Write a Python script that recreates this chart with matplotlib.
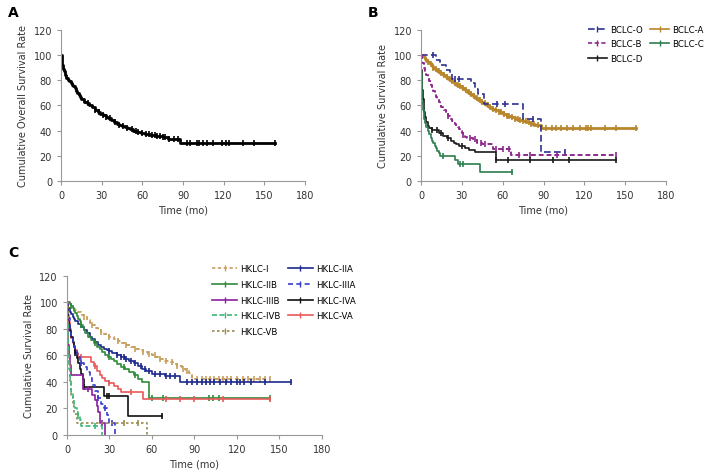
import matplotlib.pyplot as plt
from matplotlib.lines import Line2D
import numpy as np

plt.rcParams['font.family'] = 'DejaVu Sans'

# ---------- panel A : overall survival ----------
a_t = [0, 0.5, 1, 1.5, 2, 3, 4, 5, 6, 7, 8, 9, 10, 11, 12, 13, 14, 15, 17, 19, 21, 23, 25, 27, 29,
       31, 33, 35, 37, 39, 41, 43, 45, 47, 49, 51, 53, 56, 59, 62, 66, 70, 75, 79, 88]
a_s = [100, 95, 92, 89, 87, 84, 82, 80, 79, 77.5, 76.5, 75, 73.5, 71.5, 70, 68, 66.5, 65, 63, 61.5,
       60, 58.5, 56.5, 55, 53.5, 52, 51, 50, 48.5, 47, 45.5, 44.5, 43.5, 42.5, 42, 41, 40, 39, 38,
       37, 36.5, 36, 35, 33.5, 30.2]
a_end = 158
a_cens = [20, 25, 28, 31, 33, 36, 40, 43, 46, 49, 52, 55, 57, 60, 63, 65, 67, 69, 71, 73, 75, 77,
          80, 83, 86, 93, 95, 100, 102, 105, 108, 112, 119, 122, 124, 134, 142, 158]

# ---------- panel B : BCLC stages ----------
bclc_o_t = [0, 11, 14, 18, 21, 23, 37, 40, 42, 46, 75, 88]
bclc_o_s = [100, 96, 92, 88, 85, 81, 78, 73, 69, 61, 49, 23]
bclc_o_end = 106
bclc_o_cens = [9, 25, 28, 56, 62, 82, 106]

bclc_a_t = [0, 1, 2, 3, 4, 5, 6, 7, 8, 9, 10, 12, 14, 16, 18, 20, 22, 24, 26, 28, 30, 32, 34, 36,
            38, 40, 42, 44, 46, 48, 50, 52, 54, 57, 60, 63, 66, 69, 72, 75, 78, 81, 84, 88]
bclc_a_s = [100, 99, 98, 96.5, 95.5, 94.5, 93.5, 92.5, 91, 90, 89, 87, 85.5, 84, 82.5, 81, 79.5,
            78, 76.5, 75, 73.5, 72, 70.5, 69, 67.5, 66, 64.5, 63, 61.5, 60, 58.5, 57.5, 56.5, 54.5,
            53, 51.5, 50.5, 49.5, 48.5, 47.5, 46.5, 45.5, 44.5, 42]
bclc_a_end = 158
bclc_a_cens = [5, 7, 9, 11, 13, 15, 17, 19, 21, 23, 25, 27, 29, 31, 33, 35, 37, 39, 41, 43, 45, 47,
               49, 51, 53, 55, 57, 59, 61, 63, 65, 67, 69, 71, 73, 75, 77, 79, 81, 83, 86, 92, 96,
               99, 103, 107, 112, 117, 121, 123, 125, 135, 143, 158]

bclc_b_t = [0, 0.5, 1, 2, 3, 4, 5, 6, 7, 8, 9, 10, 11, 12, 13, 14, 15, 16, 17, 18, 19, 20, 21, 22,
            23, 24, 25, 26, 27, 28, 29, 30, 31, 32, 34, 38, 41, 45, 53, 66]
bclc_b_s = [100, 97, 94, 90, 87, 84, 82, 79, 76.5, 74, 71.5, 69, 67, 65, 62.5, 61, 59, 57.5, 56,
            54.5, 53, 51.5, 50, 49, 47.5, 46, 45, 44, 42.5, 41, 39.5, 38, 36.5, 35, 34, 33, 30.5,
            29.5, 25.5, 20.5]
bclc_b_end = 143
bclc_b_cens = [20, 31, 36, 40, 44, 47, 55, 60, 65, 72, 80, 100, 143]

bclc_c_t = [0, 0.3, 0.6, 1, 1.5, 2, 2.5, 3, 4, 5, 6, 7, 8, 9, 10, 11, 12, 13, 14, 25, 27, 43]
bclc_c_s = [100, 85, 72, 62, 56, 52, 49, 46, 43, 40, 37, 34, 32, 30, 28, 26, 24, 22, 20, 16.5, 13.5, 7]
bclc_c_end = 67
bclc_c_cens = [16, 29, 31, 67]

bclc_d_t = [0, 0.3, 0.6, 1, 1.5, 2, 2.5, 3, 4, 5, 6, 8, 13, 16, 19, 22, 24, 26, 28, 32, 35, 40, 55]
bclc_d_s = [100, 88, 80, 72, 65, 60, 55, 51, 47, 44, 42, 40.5, 38, 36, 34, 32, 30.5, 29, 28, 26.5,
            25, 23, 17]
bclc_d_end = 143
bclc_d_cens = [8, 12, 15, 20, 30, 55, 64, 80, 97, 109, 143]

# ---------- panel C : HKLC stages ----------
hk_i_t = [0, 1, 2, 3, 4, 5, 6, 8, 10, 12, 14, 16, 18, 20, 22, 24, 26, 28, 30, 33, 36, 39, 42, 45,
          48, 51, 54, 57, 60, 63, 66, 69, 72, 75, 78, 81, 84, 86, 88]
hk_i_s = [100, 99, 98, 97, 96, 95, 94, 92.5, 90.5, 88.5, 86.5, 84.5, 82.5, 80.5, 79, 77.5, 76, 75,
          73.5, 72, 70.5, 69, 67.5, 66, 65, 64, 62.5, 61, 60, 59, 57.5, 56, 55, 53.5, 52, 50, 48,
          46.5, 42]
hk_i_end = 143
hk_i_cens = [12, 18, 24, 30, 36, 42, 48, 54, 58, 62, 66, 70, 74, 78, 82, 85, 92, 95, 98, 101, 104,
             107, 110, 113, 116, 120, 124, 128, 132, 136, 140, 143]

hk_iia_t = [0, 0.5, 1, 2, 3, 4, 5, 6, 8, 10, 12, 14, 16, 18, 20, 22, 24, 26, 28, 30, 32, 35, 38,
            41, 44, 47, 50, 53, 56, 60, 69, 80]
hk_iia_s = [100, 98, 96, 93, 91, 89, 87.5, 86, 83.5, 81, 79, 76.5, 74, 72, 70, 68, 66.5, 65, 64,
            63, 62, 60.5, 59, 57.5, 56, 54, 52, 50, 48, 46, 44.2, 39.7]
hk_iia_end = 158
hk_iia_cens = [30, 35, 38, 40, 42, 45, 48, 52, 55, 58, 62, 66, 70, 73, 76, 85, 88, 92, 95, 98, 101,
               104, 108, 112, 116, 120, 122, 125, 130, 140, 158]

hk_iib_t = [0, 2, 3, 4, 5, 6, 7, 8, 9, 10, 11, 12, 13, 15, 17, 19, 21, 23, 25, 27, 29, 31, 33, 35,
            38, 41, 44, 47, 50, 53, 58]
hk_iib_s = [100, 99, 97.5, 95.5, 93.5, 91.5, 89.5, 87.5, 85.5, 83, 81, 79, 77, 74, 71.5, 69, 66.5,
            64.5, 62.5, 60, 58.5, 57, 55.5, 53.5, 51.5, 49.5, 47.5, 45, 42, 40, 27.5]
hk_iib_end = 143
hk_iib_cens = [3, 10, 20, 30, 40, 48, 60, 68, 100, 103, 107, 143]

hk_iiia_t = [0, 0.5, 1, 2, 3, 4, 5, 6, 7, 8, 9, 10, 12, 14, 16, 18, 20, 22, 24, 26, 28, 30, 34]
hk_iiia_s = [100, 95, 88, 80, 74, 70, 67, 64, 61, 58.5, 56, 54, 51, 47.5, 43, 38, 33, 28, 23, 20,
             15, 9, 0]
hk_iiia_end = 34
hk_iiia_cens = [10, 22, 27, 32]

hk_iiib_t = [0, 0.3, 0.6, 1, 1.5, 2, 3, 11.5, 18, 20, 21, 22, 23.5, 27]
hk_iiib_s = [100, 88, 78, 68, 60, 53, 45, 35, 30, 26, 22, 17, 9, 0]
hk_iiib_end = 27
hk_iiib_cens = [15, 25]

hk_iva_t = [0, 0.5, 1, 1.5, 2, 3, 4, 5, 6, 7, 8, 9, 10, 11, 12, 26, 43]
hk_iva_s = [100, 92, 86, 82, 78, 74, 70, 66, 62, 58, 54, 50, 46, 42, 36, 29, 14]
hk_iva_end = 67
hk_iva_cens = [6, 12, 28, 30, 67]

hk_ivb_t = [0, 0.3, 0.6, 1, 1.5, 2, 2.5, 3, 4, 5, 6, 7, 8, 9, 10, 25]
hk_ivb_s = [100, 85, 72, 60, 50, 43, 37, 32, 27, 23, 20, 17, 14, 11, 7, 0]
hk_ivb_end = 25
hk_ivb_cens = [8, 20]

hk_va_t = [0, 0.5, 1, 1.5, 2, 2.5, 3, 4, 5, 6, 7, 8, 17, 19, 21, 23, 25, 27, 30, 33, 36, 38, 54]
hk_va_s = [100, 95, 90, 85, 80, 76, 73, 69, 66, 64, 62, 58.5, 55, 52, 48.5, 45, 43, 41, 39, 37, 35,
           32, 27]
hk_va_end = 143
hk_va_cens = [10, 20, 30, 45, 70, 80, 90, 110, 143]

hk_vb_t = [0, 0.5, 1, 2, 3, 4, 5, 7, 56.5]
hk_vb_s = [100, 75, 55, 40, 30, 22, 16, 9, 0]
hk_vb_end = 56.5
hk_vb_cens = [40, 50]


def km(ax, t, s, end, cens, color, ls='-', lw=1.2):
    tt = list(t) + [end]
    ss = list(s) + [s[-1]]
    ax.step(tt, ss, where='post', color=color, linestyle=ls, linewidth=lw)
    idx = np.searchsorted(t, cens, side='right') - 1
    ax.plot(cens, np.array(s)[idx], linestyle='none', marker='|', color=color,
            markersize=4, markeredgewidth=1.2)


def style(ax, ylabel):
    ax.set_xlim(0, 180)
    ax.set_ylim(0, 120)
    ax.set_xticks(range(0, 181, 30))
    ax.set_yticks(range(0, 121, 20))
    for sp in ['top', 'right']:
        ax.spines[sp].set_visible(False)
    for sp in ['left', 'bottom']:
        ax.spines[sp].set_color('#999999')
        ax.spines[sp].set_linewidth(0.8)
    ax.tick_params(colors='#999999', labelcolor='#333333', labelsize=7, length=3, width=0.8)
    ax.set_xlabel('Time (mo)', fontsize=7, color='#333333', labelpad=3)
    ax.set_ylabel(ylabel, fontsize=7, color='#333333')


fig = plt.figure(figsize=(7.24, 4.77), dpi=100)

axA = fig.add_axes([0.0843, 0.6184, 0.337, 0.3172])
axB = fig.add_axes([0.5815, 0.6184, 0.3384, 0.3172])
axC = fig.add_axes([0.0925, 0.086, 0.3522, 0.334])

# A
km(axA, a_t, a_s, a_end, a_cens, 'black', lw=2)
style(axA, 'Cumulative Overall Survival Rate')

# B
col_o, col_a, col_b, col_c, col_d = '#2e3192', '#b8862b', '#8e2a8e', '#2e7d4f', '#1a1a1a'
km(axB, bclc_a_t, bclc_a_s, bclc_a_end, bclc_a_cens, col_a, lw=2)
km(axB, bclc_o_t, bclc_o_s, bclc_o_end, bclc_o_cens, col_o, ls=(0, (4, 2)))
km(axB, bclc_b_t, bclc_b_s, bclc_b_end, bclc_b_cens, col_b, ls=(0, (2.5, 1.5)), lw=1.4)
km(axB, bclc_d_t, bclc_d_s, bclc_d_end, bclc_d_cens, col_d)
km(axB, bclc_c_t, bclc_c_s, bclc_c_end, bclc_c_cens, col_c)
style(axB, 'Cumulative Survival Rate')

b_labels = ['BCLC-O', 'BCLC-B', 'BCLC-D', 'BCLC-A', 'BCLC-C']
b_styles = [(col_o, (0, (4, 2))), (col_b, (0, (2.5, 1.5))), (col_d, '-'), (col_a, '-'), (col_c, '-')]
b_handles = [Line2D([], [], color=c, linestyle=l, marker='|', markersize=4, lw=1.2)
             for c, l in b_styles]
fig.legend(b_handles, b_labels, ncol=2, loc='upper left', bbox_to_anchor=(0.812, 0.946),
           frameon=False, fontsize=6.2, handlelength=2.2, handletextpad=0.35,
           columnspacing=0.9, labelspacing=0.63, numpoints=1, borderpad=0, borderaxespad=0)

# C
hk_cols = {'I': '#c8a060', 'IIA': '#1c2a8c', 'IIB': '#2e8b3a', 'IIIA': '#3a3acc',
           'IIIB': '#8a1fa0', 'IVA': '#111111', 'IVB': '#3cb878', 'VA': '#e85a5a', 'VB': '#9a8a50'}
hk_ls = {'I': (0, (2, 1.5)), 'IIA': '-', 'IIB': '-', 'IIIA': (0, (3, 2)), 'IIIB': '-',
         'IVA': '-', 'IVB': (0, (3, 1.5)), 'VA': '-', 'VB': (0, (1.5, 1.5))}

km(axC, hk_i_t, hk_i_s, hk_i_end, hk_i_cens, hk_cols['I'], hk_ls['I'], lw=1.4)
km(axC, hk_iia_t, hk_iia_s, hk_iia_end, hk_iia_cens, hk_cols['IIA'], hk_ls['IIA'])
km(axC, hk_iib_t, hk_iib_s, hk_iib_end, hk_iib_cens, hk_cols['IIB'], hk_ls['IIB'])
km(axC, hk_va_t, hk_va_s, hk_va_end, hk_va_cens, hk_cols['VA'], hk_ls['VA'])
km(axC, hk_iva_t, hk_iva_s, hk_iva_end, hk_iva_cens, hk_cols['IVA'], hk_ls['IVA'])
km(axC, hk_iiia_t, hk_iiia_s, hk_iiia_end, hk_iiia_cens, hk_cols['IIIA'], hk_ls['IIIA'])
km(axC, hk_iiib_t, hk_iiib_s, hk_iiib_end, hk_iiib_cens, hk_cols['IIIB'], hk_ls['IIIB'])
km(axC, hk_vb_t, hk_vb_s, hk_vb_end, hk_vb_cens, hk_cols['VB'], hk_ls['VB'])
km(axC, hk_ivb_t, hk_ivb_s, hk_ivb_end, hk_ivb_cens, hk_cols['IVB'], hk_ls['IVB'])
style(axC, 'Cumulative Survival Rate')

c_keys = ['I', 'IIB', 'IIIB', 'IVB', 'VB', 'IIA', 'IIIA', 'IVA', 'VA']
c_handles = [Line2D([], [], color=hk_cols[k], linestyle=hk_ls[k], marker='|', markersize=4, lw=1.2)
             for k in c_keys]
fig.legend(c_handles, ['HKLC-' + k for k in c_keys], ncol=2, loc='upper left',
           bbox_to_anchor=(0.293, 0.444), frameon=False, fontsize=6.2, handlelength=2.9,
           handletextpad=0.4, columnspacing=0.8, labelspacing=0.78, numpoints=1,
           borderpad=0, borderaxespad=0)

fig.text(0.011, 0.972, 'A', fontsize=10, fontweight='bold', va='center', ha='left')
fig.text(0.508, 0.972, 'B', fontsize=10, fontweight='bold', va='center', ha='left')
fig.text(0.011, 0.469, 'C', fontsize=10, fontweight='bold', va='center', ha='left')

fig.savefig('out.png', dpi=100)
